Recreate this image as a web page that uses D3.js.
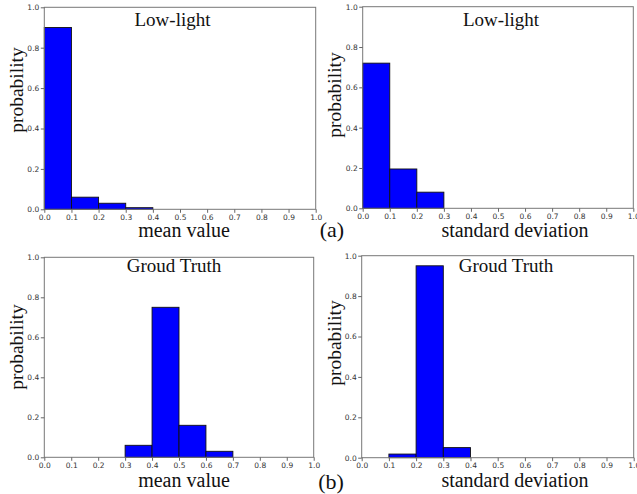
<!DOCTYPE html>
<html>
<head>
<meta charset="utf-8">
<script src="https://cdn.jsdelivr.net/npm/d3@7"></script>
<style>
  html, body { margin: 0; padding: 0; background: #fff; }
  svg { display: block; }
  .serif { font-family: "Liberation Serif", "Times New Roman", serif; fill: #111; }
  .tick text { font-family: "DejaVu Sans", sans-serif; fill: #333; }
</style>
</head>
<body>
<svg id="chart" width="637" height="494"></svg>
<script>
// Histogram bin edges shared by all panels
const xTicks = [0, 0.1, 0.2, 0.3, 0.4, 0.5, 0.6, 0.7, 0.8, 0.9, 1.0];
const yTicks = [0, 0.2, 0.4, 0.6, 0.8, 1.0];
const binWidth = 0.1;

// Low-light: mean value histogram
const lowMeanBins = [0.0, 0.1, 0.2, 0.3];
const lowMeanProb = [0.90, 0.06, 0.03, 0.008];

// Low-light: standard deviation histogram
const lowStdBins = [0.0, 0.1, 0.2];
const lowStdProb = [0.72, 0.195, 0.08];

// Ground truth: mean value histogram
const gtMeanBins = [0.3, 0.4, 0.5, 0.6];
const gtMeanProb = [0.06, 0.75, 0.16, 0.03];

// Ground truth: standard deviation histogram
const gtStdBins = [0.1, 0.2, 0.3];
const gtStdProb = [0.018, 0.95, 0.05];

const titles = ["Low-light", "Low-light", "Groud Truth", "Groud Truth"];
const xLabels = ["mean value", "standard deviation", "mean value", "standard deviation"];
const yLabel = "probability";
const subLabels = ["(a)", "(b)"];

const svg = d3.select("#chart");

// Panel frames and text placement
const panels = [
  { bins: lowMeanBins, prob: lowMeanProb, x0: 44.3, x1: 315.7, y0: 7.3,   y1: 209.3,
    title: [172.5, 26], xl: [184, 236.5], yl: [23, 90] },
  { bins: lowStdBins,  prob: lowStdProb,  x0: 362.7, x1: 633.3, y0: 6.7, y1: 208.3,
    title: [501, 26], xl: [515, 236.5], yl: [341, 95] },
  { bins: gtMeanBins,  prob: gtMeanProb,  x0: 44.3, x1: 313.7, y0: 257.3, y1: 457.3,
    title: [174, 272], xl: [184, 486.5], yl: [23, 347] },
  { bins: gtStdBins,   prob: gtStdProb,   x0: 361.7, x1: 633.7, y0: 255.7, y1: 457.7,
    title: [506, 272], xl: [515, 486.5], yl: [341, 343] }
];

panels.forEach((p, i) => {
  const x = d3.scaleLinear().domain([0, 1]).range([p.x0, p.x1]);
  const y = d3.scaleLinear().domain([0, 1]).range([p.y1, p.y0]);
  const g = svg.append("g");

  // bars
  g.selectAll("rect.bar")
    .data(p.bins.map((b, k) => ({ b, v: p.prob[k] })))
    .join("rect")
    .attr("class", "bar")
    .attr("x", d => x(d.b))
    .attr("width", d => x(d.b + binWidth) - x(d.b))
    .attr("y", d => y(d.v))
    .attr("height", d => y(0) - y(d.v))
    .attr("fill", "#0000ff")
    .attr("stroke", "#111")
    .attr("stroke-width", 0.9);

  // frame
  g.append("rect")
    .attr("x", p.x0).attr("y", p.y0)
    .attr("width", p.x1 - p.x0).attr("height", p.y1 - p.y0)
    .attr("fill", "none").attr("stroke", "#777").attr("stroke-width", 1);

  // axes
  const xa = g.append("g").attr("transform", `translate(0,${p.y1})`)
    .call(d3.axisBottom(x).tickValues(xTicks).tickFormat(d3.format(".1f"))
      .tickSize(3.5).tickPadding(1.4));
  const ya = g.append("g").attr("transform", `translate(${p.x0},0)`)
    .call(d3.axisLeft(y).tickValues(yTicks).tickFormat(d3.format(".1f"))
      .tickSize(3.5).tickPadding(1.5));
  [xa, ya].forEach(a => {
    a.select(".domain").remove();
    a.selectAll(".tick line").attr("stroke", "#666");
    a.selectAll(".tick text").attr("font-size", 7.5);
  });

  // title
  g.append("text").attr("class", "serif")
    .attr("x", p.title[0]).attr("y", p.title[1])
    .attr("text-anchor", "middle").attr("font-size", 19)
    .text(titles[i]);

  // x label
  g.append("text").attr("class", "serif")
    .attr("x", p.xl[0]).attr("y", p.xl[1])
    .attr("text-anchor", "middle").attr("font-size", 20)
    .text(xLabels[i]);

  // y label
  g.append("text").attr("class", "serif")
    .attr("transform", `translate(${p.yl[0]},${p.yl[1]}) rotate(-90)`)
    .attr("text-anchor", "middle").attr("font-size", 19.5)
    .text(yLabel);
});

// sub-figure labels
svg.selectAll("text.sub")
  .data(subLabels)
  .join("text")
  .attr("class", "serif sub")
  .attr("x", (d, i) => i === 0 ? 332 : 331)
  .attr("y", (d, i) => i === 0 ? 237 : 489)
  .attr("text-anchor", "middle")
  .attr("font-size", 22)
  .text(d => d);
</script>
</body>
</html>
